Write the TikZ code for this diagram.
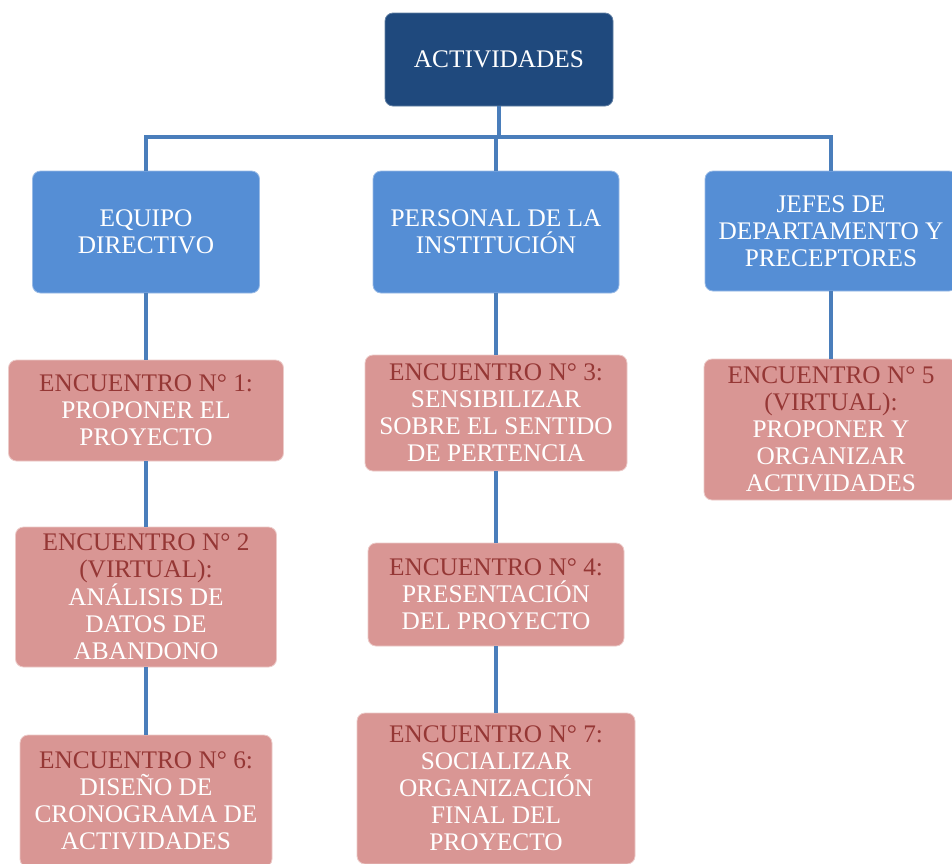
\documentclass[tikz,border=0pt]{standalone}
\usepackage{fontspec}
\setmainfont{Liberation Serif}
\definecolor{hdblue}{RGB}{31,73,125}
\definecolor{midblue}{RGB}{85,142,213}
\definecolor{connblue}{RGB}{74,126,187}
\definecolor{pinkbox}{RGB}{217,150,148}
\definecolor{dred}{RGB}{149,55,53}
\tikzset{
  basebox/.style={rectangle, rounded corners=8pt, align=center, inner sep=0pt,
    font=\fontsize{25.3}{27}\selectfont},
  topbox/.style={basebox, fill=hdblue, draw=hdblue!70!white, line width=0.8pt, text=white},
  midbox/.style={basebox, fill=midblue, draw=midblue!60!white, line width=0.8pt, text=white},
  encbox/.style={basebox, fill=pinkbox, draw=pinkbox!50!white, line width=0.8pt, text=white},
  conn/.style={draw=connblue, line width=4pt},
}
\begin{document}
\begin{tikzpicture}[x=1pt,y=-1pt]
\useasboundingbox (0,0) rectangle (952,863);
\clip (0,0) rectangle (952,863);
\fill[white] (0,0) rectangle (952,863);

\node[topbox, minimum width=228pt, minimum height=93pt] (act) at (499,59.5) {ACTIVIDADES};

\node[midbox, minimum width=227pt, minimum height=122pt] (eq) at (146,232) {EQUIPO\\DIRECTIVO};
\node[midbox, minimum width=246pt, minimum height=122pt] (pe) at (496,232) {PERSONAL DE LA\\INSTITUCIÓN};
\node[midbox, minimum width=252pt, minimum height=120pt] (je) at (831,231) {JEFES DE\\DEPARTAMENTO Y\\PRECEPTORES};

\node[encbox, minimum width=275pt, minimum height=101pt] (e1) at (146,410.5) {{\color{dred}ENCUENTRO N° 1:}\\PROPONER EL\\PROYECTO};
\node[encbox, minimum width=261pt, minimum height=140pt] (e2) at (146,597) {{\color{dred}ENCUENTRO N° 2}\\{\color{dred}(VIRTUAL):}\\ANÁLISIS DE\\DATOS DE\\ABANDONO};
\node[encbox, minimum width=252pt, minimum height=132pt] (e6) at (146,801) {{\color{dred}ENCUENTRO N° 6:}\\DISEÑO DE\\CRONOGRAMA DE\\ACTIVIDADES};

\node[encbox, minimum width=262pt, minimum height=116pt] (e3) at (496,413) {{\color{dred}ENCUENTRO N° 3:}\\SENSIBILIZAR\\SOBRE EL SENTIDO\\DE PERTENCIA};
\node[encbox, minimum width=256pt, minimum height=103pt] (e4) at (496,594.5) {{\color{dred}ENCUENTRO N° 4:}\\PRESENTACIÓN\\DEL PROYECTO};
\node[encbox, minimum width=278pt, minimum height=151pt] (e7) at (496,788.5) {{\color{dred}ENCUENTRO N° 7:}\\SOCIALIZAR\\ORGANIZACIÓN\\FINAL DEL\\PROYECTO};

\node[encbox, minimum width=254pt, minimum height=141pt] (e5) at (831,429.5) {{\color{dred}ENCUENTRO N° 5}\\{\color{dred}(VIRTUAL):}\\PROPONER Y\\ORGANIZAR\\ACTIVIDADES};

\coordinate (j) at (499,137);
\draw[conn] (act.south) -- (j);
\draw[conn] (eq.north) -- (eq.north |- j) -- (je.north |- j) -- (je.north);
\draw[conn] (pe.north) -- (pe.north |- j);

\draw[conn] (eq.south) -- (e1.north);
\draw[conn] (e1.south) -- (e2.north);
\draw[conn] (e2.south) -- (e6.north);
\draw[conn] (pe.south) -- (e3.north);
\draw[conn] (e3.south) -- (e4.north);
\draw[conn] (e4.south) -- (e7.north);
\draw[conn] (je.south) -- (e5.north);
\end{tikzpicture}
\end{document}
